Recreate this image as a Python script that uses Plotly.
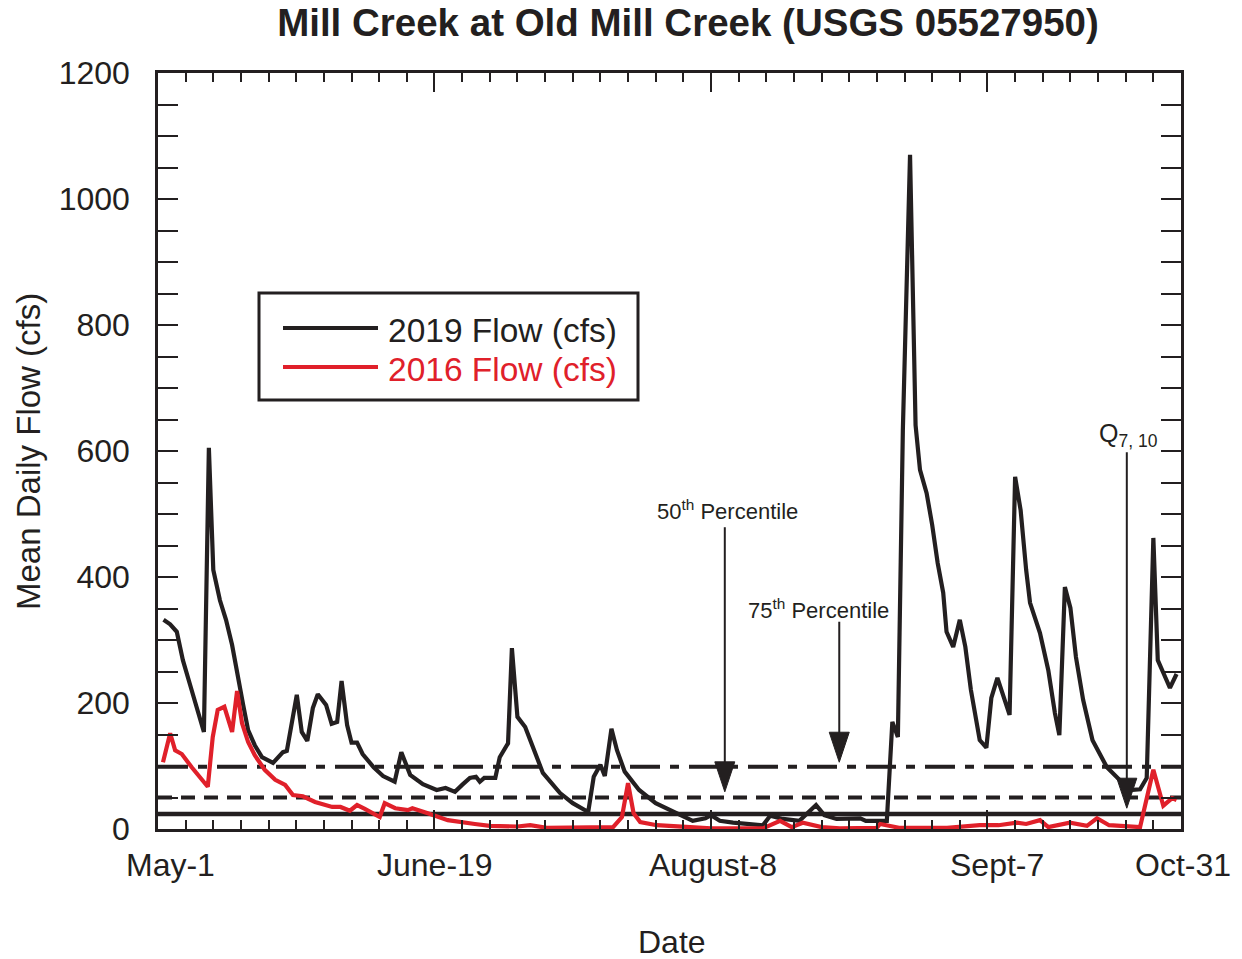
import plotly.graph_objects as go

# ---------------- data (day 0 = May-1) ----------------
days_2019 = [1, 2.2, 3.4, 4.5, 5.8, 6.9, 8.3, 9.2, 10, 11.2, 12.3, 13.4, 14.5, 15.4, 16.3, 17.5,
             18.8, 20.8, 22.6, 23.3, 25.1, 26, 27, 28, 28.9, 30.4, 31.4, 32.4, 33.2, 34.2, 35, 36,
             37, 39, 40.7, 42.8, 44, 45.6, 47.9, 50.4, 52, 53.7, 55, 56.4, 57.5, 58.2, 59, 61,
             61.8, 63.3, 64, 65, 66.4, 67.6, 69.6, 72.7, 75, 77.8, 78.8, 80, 80.8, 82, 83, 84.4,
             87, 90, 94.4, 96.7, 99, 100, 101.6, 104, 109.4, 110.7, 113, 116, 119, 120.5, 122.7,
             127, 128, 131.8, 132.8, 133.8, 134.7, 136, 137, 137.8, 139, 140, 141, 142, 142.6,
             143.8, 145, 146, 147, 148.6, 149.8, 150.7, 151.8, 154, 155, 156, 157, 157.7, 159.5,
             161, 162.2, 163, 164, 165, 166, 167.3, 169, 171.6, 174.8, 176.3, 177.6, 178.8, 180,
             180.8, 181.8, 183, 184.2]
flow_2019 = [332, 325, 313, 268, 229, 197, 154, 605, 411, 363, 332, 292, 237, 197, 157, 133,
             114, 105, 122, 124, 213, 154, 140, 192, 214, 197, 167, 170, 235, 165, 137, 137,
             119, 98, 84, 75, 122, 86, 71, 62, 65, 59, 70, 81, 83, 75, 81, 81,
             114, 136, 287, 178, 162, 136, 89, 57, 41, 27, 83, 102, 84, 159, 125, 91,
             62, 41, 22, 13, 17, 22, 13, 10, 6, 21, 16, 13, 38, 22, 16,
             17, 13, 13, 170, 146, 633, 1070, 641, 570, 533, 483, 422, 375, 313,
             289, 332, 289, 221, 141, 129, 208, 240, 181, 559, 506, 411, 359, 311,
             252, 184, 149, 384, 351, 273, 205, 141, 98, 70, 62, 63, 81, 462,
             268, 248, 224, 246]

days_2016 = [0.9, 2.2, 3.1, 4.3, 6.1, 7.6, 9, 9.9, 10.8, 12, 13.4, 14.3, 15.2, 16.3, 17.5, 19.3,
             21.2, 23, 24.4, 26.2, 28.4, 31.5, 33, 34.7, 36, 37.4, 40.1, 41, 42.9, 45.2, 46, 48.8,
             52.4, 57.3, 60, 65, 67.3, 70.3, 82.3, 83.9, 85, 86, 87.2, 90.2, 95, 100, 109.4,
             112.5, 114.6, 116.6, 120, 123.3, 130, 130.6, 134, 142.7, 148.6, 152, 155.3, 157,
             159.5, 161, 164.9, 168, 169.8, 172, 177.6, 180, 181.8, 183.4, 184.2]
flow_2016 = [106, 152, 125, 119, 98, 83, 67, 146, 189, 194, 154, 219, 168, 138, 117, 94,
             78, 70, 54, 52, 43, 35, 35, 29, 38, 32, 19, 41, 33, 30, 33, 25,
             14, 8, 5, 4, 6, 2, 3, 19, 73, 25, 11, 6, 3, 1, 1,
             13, 3, 10, 3, 1, 2, 8, 2, 2, 6, 6, 10, 8,
             14, 3, 10, 5, 17, 6, 3, 94, 37, 49, 46]

p50_flow = 99     # 50th percentile
p75_flow = 50     # 75th percentile
q710_flow = 24    # Q7,10

tick_text = ["May-1", "June-19", "August-8", "Sept-7", "Oct-31"]
tick_label_px = [170, 435, 713, 997, 1183]   # label centres (px) along the x axis

X_MAX = 185
Y_MAX = 1200

FONT = "Liberation Sans, Arial, Helvetica, sans-serif"
BLACK = "#231f20"
RED = "#e0202a"

fig = go.Figure()

# reference lines
for val, dash, w in [(p50_flow, "30px,10px,9px,10px", 4),
                     (p75_flow, "14px,9px", 4),
                     (q710_flow, "solid", 4.5)]:
    fig.add_trace(go.Scatter(x=[0, X_MAX], y=[val, val], mode="lines",
                             line=dict(color=BLACK, width=w, dash=dash),
                             showlegend=False, hoverinfo="skip"))

fig.add_trace(go.Scatter(x=days_2019, y=flow_2019, mode="lines", name="2019 Flow (cfs)",
                         line=dict(color=BLACK, width=4.2), showlegend=False))
fig.add_trace(go.Scatter(x=days_2016, y=flow_2016, mode="lines", name="2016 Flow (cfs)",
                         line=dict(color=RED, width=4.2), showlegend=False))

# px -> data helpers (plot area 1023 x 756 px)
DX = X_MAX / 1023.0
DY = Y_MAX / 756.0

shapes = []
annotations = []


def arrow(xd, ytop, ytip):
    half = 10 * DX
    head = 30 * DY
    shapes.append(dict(type="line", xref="x", yref="y", x0=xd, x1=xd, y0=ytop, y1=ytip + head / 2,
                       line=dict(color=BLACK, width=2)))
    shapes.append(dict(type="path", xref="x", yref="y",
                       path=f"M {xd - half},{ytip + head} L {xd + half},{ytip + head} L {xd},{ytip} Z",
                       fillcolor=BLACK, line=dict(color=BLACK, width=1)))


arrow(102.5, 479, 59)
arrow(123.2, 329, 106)
arrow(175.2, 598, 33)

annotations.append(dict(x=102.9, y=507, xref="x", yref="y", text="50<sup>th</sup> Percentile",
                        showarrow=False, font=dict(size=22, color=BLACK, family=FONT),
                        xanchor="center", yanchor="middle"))
annotations.append(dict(x=119.5, y=349, xref="x", yref="y", text="75<sup>th</sup> Percentile",
                        showarrow=False, font=dict(size=22, color=BLACK, family=FONT),
                        xanchor="center", yanchor="middle"))
annotations.append(dict(x=169.8, y=626, xref="x", yref="y", text="Q<sub>7, 10</sub>",
                        showarrow=False, font=dict(size=25, color=BLACK, family=FONT),
                        xanchor="left", yanchor="middle"))


def px_x(px):
    return (px - 158) / 1023.0


def px_y(py):
    return (829 - py) / 756.0


# x tick labels
for px, txt in zip(tick_label_px, tick_text):
    annotations.append(dict(x=px_x(px), y=px_y(865), xref="paper", yref="paper", text=txt,
                            showarrow=False, font=dict(size=32, color=BLACK, family=FONT),
                            xanchor="center", yanchor="middle"))

# axis titles
annotations.append(dict(x=px_x(672), y=px_y(942), xref="paper", yref="paper",
                        text="Date", showarrow=False, font=dict(size=32, color=BLACK, family=FONT),
                        xanchor="center", yanchor="middle"))
annotations.append(dict(x=px_x(28), y=px_y(452), xref="paper", yref="paper",
                        text="Mean Daily Flow (cfs)", showarrow=False, textangle=-90,
                        font=dict(size=33, color=BLACK, family=FONT),
                        xanchor="center", yanchor="middle"))

# manual legend
shapes.append(dict(type="rect", xref="paper", yref="paper", x0=px_x(259), x1=px_x(638),
                   y0=px_y(400), y1=px_y(293), line=dict(color=BLACK, width=3),
                   fillcolor="white", layer="above"))
for py, col, txt in [(328, BLACK, "2019 Flow (cfs)"), (367, RED, "2016 Flow (cfs)")]:
    shapes.append(dict(type="line", xref="paper", yref="paper", x0=px_x(283), x1=px_x(378),
                       y0=px_y(py), y1=px_y(py), line=dict(color=col, width=4), layer="above"))
    annotations.append(dict(x=px_x(386), y=px_y(py + 2), xref="paper", yref="paper", text=txt,
                            showarrow=False, font=dict(size=33.5, color=col, family=FONT),
                            xanchor="left", yanchor="middle"))

fig.update_layout(
    width=1242, height=959,
    margin=dict(l=158, r=61, t=73, b=130),
    paper_bgcolor="white", plot_bgcolor="white",
    font=dict(family=FONT, size=32, color=BLACK),
    title=dict(text="<b>Mill Creek at Old Mill Creek (USGS 05527950)</b>",
               x=688 / 1242, xref="container", xanchor="center",
               y=1 - 23 / 959, yref="container", yanchor="middle",
               font=dict(size=38.5, color=BLACK, family=FONT)),
    shapes=shapes, annotations=annotations,
    xaxis=dict(range=[0, X_MAX], showgrid=False, zeroline=False, showline=True,
               linecolor=BLACK, linewidth=2.5, mirror="ticks",
               ticks="inside", ticklen=19, tickwidth=1.8, tickcolor=BLACK,
               tickmode="linear", tick0=0, dtick=50, showticklabels=False,
               minor=dict(ticks="inside", ticklen=9, tickwidth=1.8, tickcolor=BLACK,
                          dtick=5, showgrid=False)),
    yaxis=dict(range=[0, Y_MAX], showgrid=False, zeroline=False, showline=True,
               linecolor=BLACK, linewidth=2.5, mirror="ticks",
               ticks="inside", ticklen=20, tickwidth=1.8, tickcolor=BLACK,
               tickmode="linear", tick0=0, dtick=200, ticklabelstandoff=19,
               tickfont=dict(size=32, color=BLACK, family=FONT),
               minor=dict(ticks="inside", ticklen=20, tickwidth=1.8, tickcolor=BLACK,
                          dtick=50, showgrid=False)),
)

fig.write_html("out.html")
